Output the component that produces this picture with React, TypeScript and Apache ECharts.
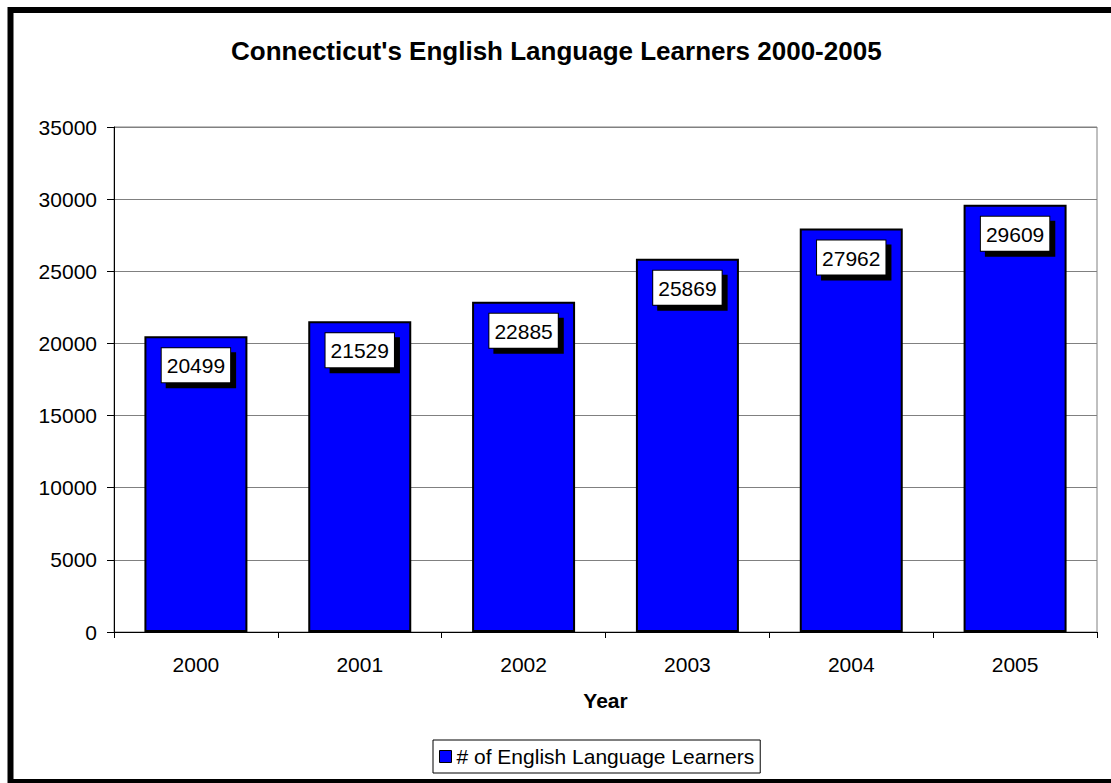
import React, { useEffect, useRef } from "react";
import * as echarts from "echarts";

const years = ["2000", "2001", "2002", "2003", "2004", "2005"];
const learners = [20499, 21529, 22885, 25869, 27962, 29609];
const seriesName = "# of English Language Learners";
const titleText = "Connecticut's English Language Learners 2000-2005";
const xAxisName = "Year";

const FONT = "'Liberation Sans', Arial, sans-serif";

export default function App() {
  const ref = useRef<HTMLDivElement>(null);
  useEffect(() => {
    if (!ref.current) return;
    const chart = echarts.init(ref.current, undefined, { renderer: "svg" });
    chart.setOption({
      animation: false,
      backgroundColor: "#ffffff",
      textStyle: { fontFamily: FONT },
      title: {
        text: titleText,
        left: 226,
        top: 33,
        textStyle: { fontSize: 26, fontWeight: "bold", color: "#000", fontFamily: FONT },
      },
      graphic: [
        {
          type: "rect",
          z: -10,
          shape: { x: 10.5, y: 10, width: 1200, height: 772 },
          style: { fill: "none", stroke: "#000", lineWidth: 6 },
        },
      ],
      legend: {
        data: [seriesName],
        left: 433,
        top: 740,
        padding: [6, 6],
        borderColor: "#000",
        borderWidth: 1,
        itemWidth: 12,
        itemHeight: 12,
        icon: "rect",
        itemStyle: { borderColor: "#000", borderWidth: 1 },
        textStyle: { fontSize: 21, color: "#000", fontFamily: FONT },
      },
      grid: {
        left: 114,
        top: 127,
        right: 14,
        bottom: 151,
        show: true,
        borderColor: "#808080",
        borderWidth: 1,
        containLabel: false,
      },
      xAxis: {
        type: "category",
        data: years,
        name: xAxisName,
        nameLocation: "middle",
        nameGap: 58,
        nameTextStyle: { fontSize: 21, fontWeight: "bold", color: "#000", fontFamily: FONT },
        axisLine: { show: true, lineStyle: { color: "#000", width: 1 } },
        axisTick: { show: true, length: 6, lineStyle: { color: "#000" } },
        axisLabel: { fontSize: 21, color: "#000", margin: 22, fontFamily: FONT },
        splitLine: { show: false },
      },
      yAxis: {
        type: "value",
        min: 0,
        max: 35000,
        interval: 5000,
        axisLine: { show: true, lineStyle: { color: "#000", width: 1 } },
        axisTick: { show: true, length: 7, lineStyle: { color: "#000" } },
        axisLabel: {
          fontSize: 21,
          color: "#000",
          margin: 17,
          fontFamily: FONT,
          formatter: (v: number) => String(v),
        },
        splitLine: { show: true, lineStyle: { color: "#808080", width: 1 } },
      },
      series: [
        {
          name: seriesName,
          type: "bar",
          data: learners,
          barWidth: 103,
          itemStyle: {
            color: "#0000ff",
            borderColor: "#000",
            borderWidth: 2,
          },
          label: {
            show: true,
            position: "insideTop",
            distance: 12,
            color: "#000",
            fontSize: 21,
            fontFamily: FONT,
            backgroundColor: "#fff",
            borderColor: "#000",
            borderWidth: 1,
            padding: [7, 5, 6, 5],
            shadowColor: "#000",
            shadowOffsetX: 5,
            shadowOffsetY: 5,
            shadowBlur: 0,
          },
        },
      ],
    });
    return () => chart.dispose();
  }, []);
  return (
    <div
      ref={ref}
      style={{ position: "fixed", left: 0, top: 0, width: 1111, height: 783 }}
    />
  );
}
